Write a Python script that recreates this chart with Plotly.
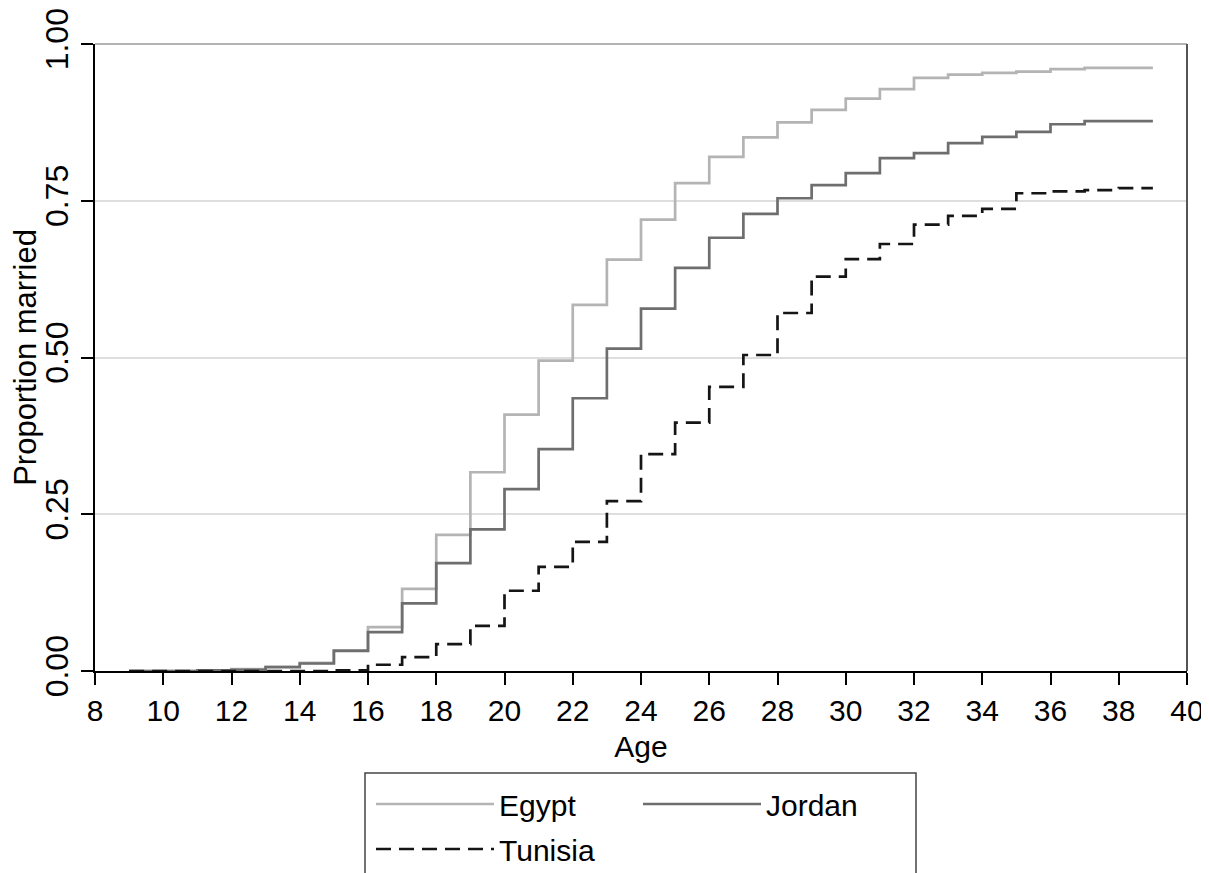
import plotly.graph_objects as go

# ---- data ----
ages = [9, 10, 11, 12, 13, 14, 15, 16, 17, 18, 19, 20, 21, 22, 23, 24,
        25, 26, 27, 28, 29, 30, 31, 32, 33, 34, 35, 36, 37, 38, 39]

egypt = [0.000, 0.000, 0.001, 0.003, 0.007, 0.013, 0.033, 0.070, 0.131, 0.217,
         0.317, 0.409, 0.495, 0.584, 0.656, 0.720, 0.778, 0.820, 0.851, 0.875,
         0.895, 0.913, 0.928, 0.946, 0.951, 0.954, 0.956, 0.960, 0.962, 0.962,
         0.962]

jordan = [0.000, 0.000, 0.001, 0.002, 0.006, 0.012, 0.032, 0.062, 0.108, 0.172,
          0.226, 0.290, 0.354, 0.435, 0.514, 0.578, 0.643, 0.691, 0.729, 0.754,
          0.775, 0.794, 0.818, 0.826, 0.842, 0.852, 0.860, 0.872, 0.877, 0.877,
          0.877]

tunisia = [0.000, 0.000, 0.000, 0.000, 0.000, 0.000, 0.001, 0.010, 0.022, 0.043,
           0.072, 0.128, 0.166, 0.206, 0.271, 0.346, 0.396, 0.453, 0.504, 0.571,
           0.629, 0.657, 0.681, 0.712, 0.726, 0.737, 0.762, 0.765, 0.767, 0.770,
           0.770]

x_ticks = [8, 10, 12, 14, 16, 18, 20, 22, 24, 26, 28, 30, 32, 34, 36, 38, 40]
y_ticks = [0.0, 0.25, 0.5, 0.75, 1.0]
y_tick_labels = ["0.00", "0.25", "0.50", "0.75", "1.00"]

FONT = "Liberation Sans, Arial, Helvetica, sans-serif"

fig = go.Figure()
fig.add_trace(go.Scatter(x=ages, y=egypt, name="Egypt", mode="lines",
                         line=dict(shape="hv", color="#b4b4b4", width=2.7),
                         legend="legend"))
fig.add_trace(go.Scatter(x=ages, y=jordan, name="Jordan", mode="lines",
                         line=dict(shape="hv", color="#6e6e6e", width=2.7),
                         legend="legend"))
fig.add_trace(go.Scatter(x=ages, y=tunisia, name="Tunisia", mode="lines",
                         line=dict(shape="hv", color="#151515", width=2.7,
                                   dash="15px,8px"),
                         legend="legend2"))

# The page body has an 8px default margin, so the figure starts at (8, 8).
OFF = 8
SCREEN_W, SCREEN_H = 1209, 873
W, H = SCREEN_W - OFF, SCREEN_H - OFF
# plot area on screen: x 95..1187, y 44..671
L = 95 - OFF
R = OFF + W - 1187
T = 44 - OFF
B = OFF + H - 671
pw, ph = W - L - R, H - T - B


def px_to_paper_x(px):
    return (px - 95) / pw


def px_to_paper_y(py):
    return (671 - py) / ph


def cx(px):
    return (px - OFF) / W


def cy(py):
    return 1 - (py - OFF) / H


fig.update_layout(
    width=W, height=H,
    margin=dict(l=L, r=R, t=T, b=B, autoexpand=False),
    paper_bgcolor="white", plot_bgcolor="white",
    font=dict(family=FONT, size=30, color="black"),
    xaxis=dict(
        range=[8, 40], tickvals=x_ticks, ticks="outside", ticklen=12,
        tickwidth=1.5, tickcolor="black", showgrid=False, zeroline=False,
        showline=True, linecolor="black", linewidth=2, automargin=False,
        tickfont=dict(size=30),
        title=dict(text="Age", font=dict(size=30), standoff=10),
    ),
    yaxis=dict(
        range=[0, 1], tickvals=y_ticks, ticktext=y_tick_labels,
        ticks="outside", ticklen=12, tickwidth=1.5, tickcolor="black",
        tickangle=-90, showgrid=True, gridcolor="#dedede", gridwidth=2,
        zeroline=False, showline=True, linecolor="black", linewidth=2,
        automargin=False,
        tickfont=dict(size=32),
        title=dict(text="Proportion married", font=dict(size=31), standoff=0),
    ),
    legend=dict(
        orientation="h", xref="container", yref="container",
        x=cx(371), xanchor="left", y=cy(778), yanchor="top", itemwidth=118,
        entrywidth=134, bgcolor="rgba(0,0,0,0)", borderwidth=0,
        font=dict(size=30), tracegroupgap=0,
    ),
    legend2=dict(
        orientation="h", xref="container", yref="container",
        x=cx(371), xanchor="left", y=cy(823), yanchor="top", itemwidth=118,
        bgcolor="rgba(0,0,0,0)", borderwidth=0, font=dict(size=30),
    ),
    shapes=[
        dict(type="line", xref="paper", yref="paper", x0=0, x1=1, y0=1, y1=1,
             line=dict(color="#9a9a9a", width=1.5), layer="above"),
        dict(type="line", xref="paper", yref="paper", x0=1, x1=1, y0=0, y1=1,
             line=dict(color="#555555", width=2), layer="above"),
        dict(type="rect", xref="paper", yref="paper",
             x0=px_to_paper_x(365), x1=px_to_paper_x(916),
             y0=px_to_paper_y(773), y1=px_to_paper_y(900),
             line=dict(color="#444444", width=1.5), fillcolor="rgba(0,0,0,0)",
             layer="above"),
    ],
)

fig.write_html("out.html")
